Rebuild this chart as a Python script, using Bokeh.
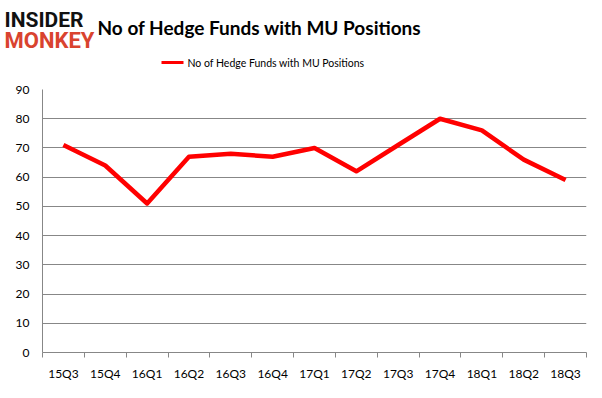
from bokeh.plotting import figure
from bokeh.layouts import column
from bokeh.models import FixedTicker, Range1d
from bokeh.core.properties import value
from bokeh.embed import file_html
from bokeh.resources import INLINE

quarters = ["15Q3", "15Q4", "16Q1", "16Q2", "16Q3", "16Q4", "17Q1",
            "17Q2", "17Q3", "17Q4", "18Q1", "18Q2", "18Q3"]
funds = [71, 64, 51, 67, 68, 67, 70, 62, 71, 80, 76, 66, 59]
y_ticks = [0, 10, 20, 30, 40, 50, 60, 70, 80, 90]
series_name = "No of Hedge Funds with MU Positions"
title_text = "No of Hedge Funds with MU Positions"

W = 602
HEAD = 81

# ---------- header: logo, title, legend ----------
h = figure(width=W, height=HEAD, output_backend="svg", toolbar_location=None,
           x_range=Range1d(0, W), y_range=Range1d(HEAD, 0),
           x_axis_type=None, y_axis_type=None,
           min_border=0, min_border_left=0, min_border_right=0,
           min_border_top=0, min_border_bottom=0)
h.frame_align = False
h.outline_line_color = None
h.xgrid.visible = False
h.ygrid.visible = False
h.border_fill_color = "white"
h.background_fill_color = "white"

h.text(x=[4], y=[19], text=["INSIDER"], text_font=value("Roboto"),
       text_font_style="bold", text_font_size="21px", text_color="#111111",
       text_baseline="middle", text_align="left")
h.text(x=[4], y=[40], text=["MONKEY"], text_font=value("Roboto"),
       text_font_style="bold", text_font_size="22px", text_color="#d9432f",
       text_baseline="middle", text_align="left")
h.text(x=[97], y=[27], text=[title_text], text_font=value("Lato"),
       text_font_style="bold", text_font_size="19px", text_color="#000000",
       text_baseline="middle", text_align="left")
h.line(x=[161, 183], y=[62, 62], line_color="#ff0000", line_width=3)
h.text(x=[187], y=[62], text=[series_name], text_font=value("Lato"),
       text_font_size="10.5px", text_color="#000000",
       text_baseline="middle", text_align="left")

# ---------- main chart ----------
xs = list(range(len(quarters)))

p = figure(width=W, height=398 - HEAD, output_backend="svg", toolbar_location=None,
           x_range=Range1d(-0.5, len(quarters) - 0.5), y_range=Range1d(0, 90),
           min_border_left=42, min_border_right=16, min_border_top=89 - HEAD,
           min_border_bottom=46)
p.frame_align = False
p.outline_line_color = None
p.background_fill_color = "white"
p.border_fill_color = "white"

p.line(xs, funds, line_color="#ff0000", line_width=4.5, line_join="round")

grid_col = "#878787"
p.xgrid.grid_line_color = None
p.ygrid.grid_line_color = grid_col
p.ygrid.ticker = FixedTicker(ticks=y_ticks)

p.yaxis.ticker = FixedTicker(ticks=y_ticks)
p.yaxis.axis_line_color = grid_col
p.yaxis.major_tick_line_color = None
p.yaxis.minor_tick_line_color = None
p.yaxis.major_tick_out = 0
p.yaxis.major_label_standoff = 13
p.yaxis.major_label_text_font = "Lato"
p.yaxis.major_label_text_font_size = "12px"
p.yaxis.major_label_text_color = "#000000"

p.xaxis.ticker = FixedTicker(ticks=xs, minor_ticks=[i - 0.5 for i in range(len(quarters) + 1)])
p.xaxis.major_label_overrides = {i: q for i, q in enumerate(quarters)}
p.xaxis.axis_line_color = grid_col
p.xaxis.major_tick_line_color = None
p.xaxis.major_tick_out = 0
p.xaxis.minor_tick_line_color = grid_col
p.xaxis.minor_tick_out = 5
p.xaxis.minor_tick_in = 0
p.xaxis.major_label_standoff = 8
p.xaxis.major_label_text_font = "Lato"
p.xaxis.major_label_text_font_size = "12px"
p.xaxis.major_label_text_color = "#000000"

layout = column(h, p, spacing=0)
open("out.html", "w").write(file_html(layout, INLINE))
